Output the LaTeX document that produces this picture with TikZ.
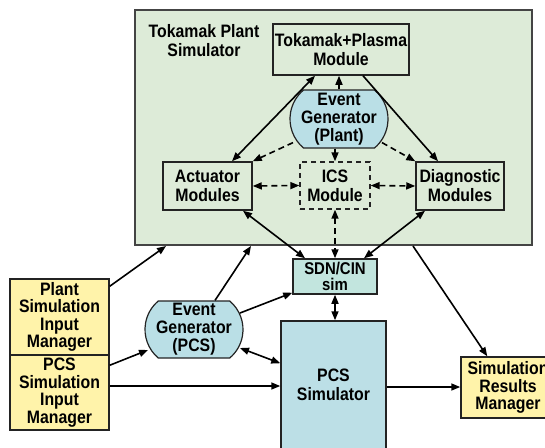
\documentclass[tikz,border=0pt]{standalone}
\usepackage{fontspec}
\setmainfont{Liberation Sans}[FakeStretch=0.88]
\usetikzlibrary{arrows.meta,shapes.misc,calc}
\definecolor{plantgreen}{RGB}{221,235,216}
\definecolor{evblue}{RGB}{186,223,230}
\definecolor{sdnteal}{RGB}{194,229,222}
\definecolor{pcsblue}{RGB}{188,223,230}
\definecolor{inyellow}{RGB}{255,243,170}
\definecolor{edge}{RGB}{35,35,35}
\begin{document}
\begin{tikzpicture}[x=1pt,y=-1pt,
  >={Triangle[length=9pt,width=7pt]},
  every node/.style={font=\bfseries\fontsize{18}{19}\selectfont, align=center, inner sep=0pt},
  box/.style={draw=edge, line width=1.5pt, rectangle},
  evgen/.style={draw=edge, line width=1.2pt, fill=evblue, rounded rectangle, rounded rectangle arc length=100, font=\bfseries\fontsize{18}{18}\selectfont},
  tight/.style={font=\bfseries\fontsize{18}{17.5}\selectfont},
  conn/.style={line width=1.6pt, draw=black},
  dconn/.style={conn, dash pattern=on 6pt off 4pt}
]
\useasboundingbox (0,0) rectangle (545,447);

% main plant simulator box
\node[box, fill=plantgreen, line width=2pt, draw=edge!85, minimum width=397, minimum height=235] (tps) at (333.5,127.5) {};
\node (tpslabel) at (204,41) {Tokamak Plant\\Simulator};

\node[box, minimum width=136, minimum height=51] (tok) at (341,49.5) {Tokamak+Plasma\\Module};
\node[evgen, minimum width=98, minimum height=58] (egp) at (339,119) {Event\\Generator\\(Plant)};
\node[box, minimum width=89, minimum height=48] (act) at (207.5,186) {Actuator\\Modules};
\node[box, dash pattern=on 5pt off 4pt, line width=1.4pt, minimum width=70, minimum height=47] (ics) at (335,185.5) {ICS\\Module};
\node[box, minimum width=88, minimum height=48] (diag) at (460,186) {Diagnostic\\Modules};

\node[box, fill=sdnteal, minimum width=84, minimum height=35, font=\bfseries\fontsize{17}{16.5}\selectfont] (sdn) at (335,276.5) {SDN/CIN\\sim};

\node[box, tight, fill=inyellow, minimum width=99, minimum height=76] (psim) at (59.5,317) {Plant\\Simulation\\Input\\Manager};
\node[box, tight, fill=inyellow, minimum width=99, minimum height=75] (pcsin) at (59.5,392.5) {PCS\\Simulation\\Input\\Manager};

\node[evgen, minimum width=98, minimum height=57] (egc) at (194,329.5) {Event\\Generator\\(PCS)};

\node[box, fill=pcsblue, minimum width=105, minimum height=134] (pcs) at (333.5,388) {};
\node (pcstext) at (333.5,385) {PCS\\Simulator};

\node[box, tight, fill=inyellow, minimum width=94, minimum height=61] (res) at (508,387.5) {Simulation\\Results\\Manager};

% connectors inside plant simulator
\draw[conn, <->] ([xshift=-26]tok.south) -- ([xshift=24.5]act.north);
\draw[conn, ->] ([xshift=22]tok.south) -- ([xshift=-22]diag.north);
\draw[conn, ->] (egp.north) -- (egp.north |- tok.south);
\draw[dconn, ->] ([xshift=-46,yshift=6]egp.south) -- (act.north east);
\draw[dconn, ->] (ics.north |- egp.south) -- (ics.north);
\draw[dconn, ->] ([xshift=43,yshift=6]egp.south) -- (diag.north west);
\draw[dconn, <->] (act.east) -- (ics.west);
\draw[dconn, <->] (ics.east) -- (diag.west);
\draw[dconn, <->] (ics.south) -- (sdn.north);
\draw[conn, <->] ([xshift=35.5]act.south) -- ([xshift=-30]sdn.north);
\draw[conn, <->] ([xshift=-35]diag.south) -- ([xshift=29]sdn.north);

% outside connectors
\draw[conn, ->] ([yshift=-8]psim.north east) -- ([xshift=32]tps.south west);
\draw[conn, ->] ([xshift=21]egc.north) -- ([xshift=117]tps.south west);
\draw[conn, ->] ([xshift=46,yshift=16.5]egc.center) -- ([yshift=2]sdn.south west);
\draw[conn, ->] ([yshift=-11]pcsin.north east) -- ([xshift=-46,yshift=-20.5]egc.center);
\draw[conn, ->] ([yshift=6.5]pcsin.east) coordinate (h1) -- (h1 -| pcs.west);
\draw[conn, <->] ([xshift=46,yshift=-18.5]egc.center) -- ([yshift=-43]pcs.north west);
\draw[conn, <->] (sdn.south) -- (sdn.south |- pcs.north);
\draw[conn, ->] ([xshift=79.5]tps.south) -- ([xshift=27]res.north west);
\draw[conn, ->] ([yshift=1]pcs.east) coordinate (h2) -- (h2 -| res.west);
\end{tikzpicture}
\end{document}
